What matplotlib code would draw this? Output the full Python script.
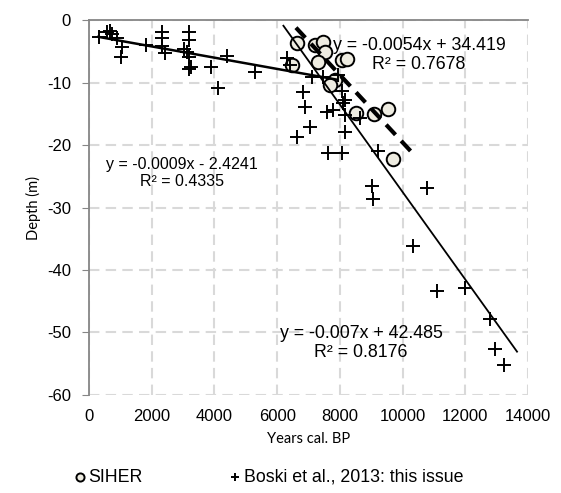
import matplotlib.pyplot as plt
import numpy as np

plt.rcParams["font.family"] = ["Liberation Sans", "DejaVu Sans"]
plt.rcParams["axes.unicode_minus"] = False

# SIHER samples (years cal. BP, depth m)
siher_age = [6633, 7207, 7462, 7526, 7303, 8068, 8228, 7845, 7685, 6474,
             8515, 9089, 9535, 9695]
siher_depth = [-3.7, -4.0, -3.5, -5.1, -6.7, -6.4, -6.2, -9.6, -10.4, -7.2,
               -14.9, -15.0, -14.2, -22.2]

# Boski et al., 2013
boski_age = [319, 574, 670, 733, 893, 1052, 1020, 1818, 2328, 2328, 2328, 2424,
             3189, 3189, 3030, 3125, 3189, 3253, 3189, 3891, 4114, 4401, 5294,
             6314, 6410, 7111, 7462, 7941, 8068, 8164, 6824, 6888, 7590, 7781,
             8100, 8164, 8642, 7048, 6633, 8164, 7622, 8068, 9216, 9025, 9057,
             10779, 10332, 11098, 11991, 12788, 12947, 13234]
boski_depth = [-2.7, -1.9, -1.8, -2.2, -2.9, -4.3, -5.9, -4.0, -1.9, -2.9, -4.2,
               -5.3, -1.9, -3.2, -4.6, -5.1, -5.9, -7.5, -7.8, -7.5, -10.9, -5.8,
               -8.3, -6.1, -7.2, -9.1, -9.1, -8.8, -11.4, -12.8, -11.5, -13.9,
               -14.7, -14.4, -13.3, -15.2, -15.7, -17.1, -18.7, -17.9, -21.3,
               -21.3, -21.0, -26.6, -28.6, -26.9, -36.2, -43.4, -42.9, -47.8,
               -52.6, -55.2]

# trendlines: slope, intercept, r2, x range
trends = {
    "siher": (-0.0054, 34.419, 0.7678, (6600, 10300)),
    "young": (-0.0009, -2.4241, 0.4335, (300, 7900)),
    "old": (-0.007, 42.485, 0.8176, (6200, 13650)),
}

fig = plt.figure(figsize=(5.61, 4.93), dpi=100)
ax = fig.add_axes([0.1586, 0.1988, 0.7826, 0.7606])

ax.set_xlim(0, 14000)
ax.set_ylim(-60, 0)
ax.set_xticks(np.arange(0, 14001, 2000))
ax.set_yticks(np.arange(-60, 1, 10))
ax.grid(True, color="#d9d9d9", linestyle=(0, (5, 3)), linewidth=1.5, zorder=0)
ax.set_axisbelow(True)

for s in ["right", "bottom"]:
    ax.spines[s].set_visible(False)
for s in ["left", "top"]:
    ax.spines[s].set_color("#868686")
    ax.spines[s].set_linewidth(1.3)

ax.tick_params(axis="x", length=0, labelsize=12, pad=10, labeltop=False,
               labelbottom=True, top=False, bottom=False)
ax.tick_params(axis="y", length=5, color="#868686", labelsize=12, pad=8)

ax.scatter(siher_age, siher_depth, s=95, facecolor="#eeece1", edgecolor="black",
           linewidth=1.4, zorder=3, label="SIHER")
ax.scatter(boski_age, boski_depth, s=90, marker="+", color="black",
           linewidth=1.4, zorder=4, label="Boski et al., 2013: this issue")

for key, (m, b, r2, (x0, x1)) in trends.items():
    xs = np.array([x0, x1])
    if key == "siher":
        ax.plot(xs, m * xs + b, color="black", linewidth=3,
                linestyle=(0, (3.3, 2)), zorder=5)
    elif key == "young":
        ax.plot(xs, m * xs + b, color="black", linewidth=1.8, zorder=5)
    else:
        ax.plot(xs, m * xs + b, color="black", linewidth=1.3, zorder=5)

ax.text(10520, -5.6, "y = -0.0054x + 34.419\nR² = 0.7678", ha="center",
        va="center", fontsize=12.8, linespacing=1.15, zorder=2)
ax.text(2966, -24.5, "y = -0.0009x - 2.4241\nR² = 0.4335", ha="center",
        va="center", fontsize=11.5, linespacing=1.2, zorder=2)
ax.text(8674, -51.7, "y = -0.007x + 42.485\nR² = 0.8176", ha="center",
        va="center", fontsize=12.8, linespacing=1.1, zorder=2)

ax.set_xlabel("Years cal. BP", family=["Lato", "DejaVu Sans"], fontsize=10.5,
              labelpad=6)
ax.set_ylabel("Depth (m)", family=["Lato", "DejaVu Sans"], fontsize=10.5,
              labelpad=4)

leg = fig.legend(handles=ax.collections[:2], loc="center",
                 bbox_to_anchor=(0.478, 0.032), ncol=2, frameon=False,
                 fontsize=12.8, handletextpad=0.1, columnspacing=4.8,
                 markerscale=0.6, handlelength=0.8)

fig.savefig("out.png", dpi=100)
